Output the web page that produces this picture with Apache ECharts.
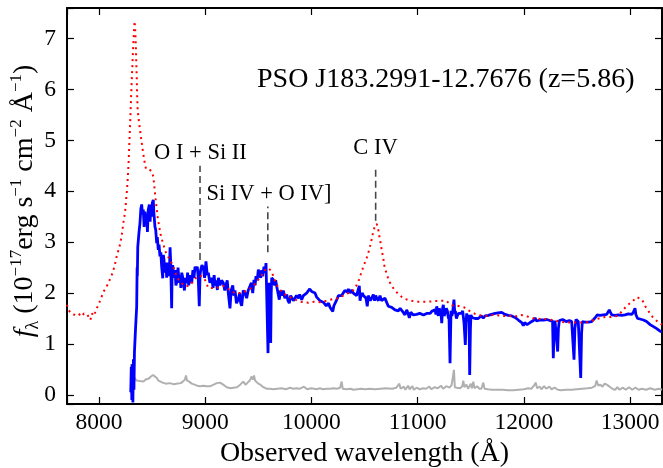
<!DOCTYPE html>
<html>
<head>
<meta charset="utf-8">
<script src="https://cdn.jsdelivr.net/npm/echarts@6/dist/echarts.min.js"></script>
<style>
html,body{margin:0;padding:0;background:#fff;}
#chart{width:663px;height:468px;}
</style>
</head>
<body>
<div id="chart"></div>
<script>
// ---------------- DATA ----------------
const titleText = 'PSO J183.2991-12.7676 (z=5.86)';
const xAxisTitle = 'Observed wavelength (Å)';

// Observed spectrum (blue): [wavelength Å, flux 1e-17]
const spectrum = [
[8300,0.05],[8305,0.55],[8310,-0.1],[8315,0.6],[8320,-0.15],[8325,0.7],[8330,0.1],[8335,0.85],[8340,0.88],[8345,1.3],
[8350,1.5],[8356,1.74],[8360,2.5],[8362,2.33],[8366,2.9],[8371,2.92],[8378,3.2],[8387,3.38],[8395,3.65],[8403,3.74],
[8410,3.55],[8418,3.64],[8426,3.3],[8434,3.6],[8444,3.38],[8450,3.55],[8457,3.2],[8465,3.64],[8475,3.74],[8482,3.4],
[8488,3.64],[8495,3.5],[8503,3.77],[8512,3.83],[8517,3.6],[8522,3.57],[8528,3.3],[8535,3.24],[8544,2.98],[8550,3.1],
[8559,2.85],[8566,2.95],[8575,2.72],[8583,2.8],[8591,2.52],[8601,2.29],[8607,2.75],[8613,2.65],[8620,2.4],[8632,2.6],
[8638,2.3],[8644,2.55],[8650,2.35],[8657,2.6],[8663,2.33],[8670,2.9],[8676,2.6],[8685,1.7],[8690,2.5],[8695,2.55],
[8705,2.3],[8717,2.45],[8725,2.15],[8738,2.26],[8745,2.5],[8755,2.2],[8764,2.35],[8772,2.1],[8780,2.4],[8795,2.25],
[8805,2.05],[8815,2.3],[8827,2.2],[8835,2.4],[8845,2.15],[8851,2.13],[8860,2.35],[8874,2.2],[8885,2.45],[8895,2.3],
[8905,2.52],[8915,2.45],[8926,2.52],[8935,2.3],[8945,1.74],[8952,2.35],[8958,2.45],[8970,2.55],[8983,2.5],[8995,2.3],
[9008,2.62],[9020,2.35],[9030,2.4],[9045,2.2],[9062,2.3],[9075,2.1],[9085,2.35],[9093,2.15],[9105,2.25],[9115,2.06],
[9125,2.3],[9140,2.15],[9155,2.25],[9171,2.2],[9185,2.05],[9196,2.15],[9208,2.25],[9218,2.0],[9234,1.7],[9245,2.05],
[9260,2.15],[9270,1.95],[9281,2.05],[9295,1.8],[9312,1.87],[9325,2.0],[9335,1.8],[9344,1.75],[9359,2.05],[9375,2.0],
[9391,1.9],[9405,2.05],[9422,2.06],[9435,2.2],[9448,2.0],[9460,2.26],[9470,2.15],[9479,2.33],[9490,2.25],[9501,2.46],
[9512,2.35],[9523,2.3],[9532,2.45],[9542,2.33],[9554,2.52],[9565,2.4],[9573,2.59],[9585,2.59],[9592,0.82],[9597,1.8],
[9604,2.2],[9610,1.3],[9617,1.02],[9622,2.0],[9627,2.3],[9642,2.26],[9655,2.15],[9664,2.25],[9674,2.13],[9685,2.1],
[9698,1.87],[9711,2.05],[9725,1.95],[9736,2.05],[9750,1.9],[9768,1.97],[9780,1.85],[9792,1.8],[9805,1.95],[9815,1.93],
[9830,1.85],[9846,1.87],[9860,1.95],[9877,1.9],[9890,1.97],[9909,1.87],[9925,1.95],[9940,1.92],[9955,2.0],[9971,2.0],
[9985,2.08],[10003,2.03],[10018,2.0],[10034,2.0],[10050,1.92],[10065,1.95],[10080,1.85],[10097,1.87],[10112,1.82],[10128,1.8],
[10140,1.75],[10150,1.74],[10162,1.8],[10175,1.72],[10190,1.75],[10201,1.64],[10212,1.75],[10222,1.75],[10235,1.85],[10244,1.87],
[10255,1.95],[10269,1.93],[10285,1.95],[10301,1.98],[10315,2.05],[10326,2.06],[10340,2.02],[10348,2.08],[10365,2.0],[10380,2.06],
[10395,2.0],[10411,2.03],[10425,1.95],[10432,1.98],[10451,2.14],[10458,1.85],[10464,1.92],[10480,2.0],[10489,1.95],[10500,1.95],
[10514,1.9],[10526,1.74],[10535,1.95],[10545,1.92],[10555,1.85],[10568,1.9],[10583,1.97],[10595,1.85],[10605,1.95],[10615,1.9],
[10630,1.85],[10646,1.95],[10660,1.85],[10677,1.87],[10692,1.9],[10709,1.87],[10724,1.74],[10740,1.76],[10756,1.72],[10770,1.75],
[10787,1.67],[10800,1.7],[10818,1.65],[10835,1.7],[10850,1.67],[10865,1.62],[10881,1.57],[10897,1.67],[10910,1.6],[10922,1.51],
[10935,1.62],[10944,1.6],[10960,1.57],[10975,1.6],[10990,1.58],[11006,1.59],[11020,1.6],[11038,1.6],[11055,1.57],[11070,1.6],
[11085,1.6],[11101,1.62],[11118,1.6],[11133,1.64],[11150,1.62],[11164,1.67],[11172,1.58],[11180,1.74],[11188,1.6],[11195,1.55],
[11203,1.7],[11211,1.65],[11220,1.6],[11227,1.41],[11235,1.7],[11242,1.77],[11250,1.55],[11258,1.6],[11270,1.7],[11280,1.65],
[11290,1.5],[11295,1.55],[11305,0.62],[11314,1.65],[11322,1.55],[11330,1.62],[11342,1.87],[11350,1.6],[11355,1.65],[11365,1.5],
[11373,1.55],[11385,1.6],[11399,1.57],[11412,1.6],[11424,1.65],[11432,1.5],[11437,1.41],[11449,0.98],[11455,1.4],[11462,1.6],
[11470,1.5],[11477,1.57],[11484,1.45],[11490,0.39],[11497,1.3],[11502,1.57],[11512,1.52],[11524,1.54],[11540,1.5],[11556,1.52],
[11570,1.5],[11587,1.52],[11600,1.55],[11618,1.51],[11635,1.55],[11650,1.53],[11665,1.56],[11680,1.55],[11695,1.58],[11712,1.57],
[11730,1.6],[11745,1.58],[11759,1.61],[11775,1.63],[11791,1.62],[11805,1.62],[11822,1.58],[11838,1.56],[11854,1.56],[11870,1.54],
[11886,1.55],[11901,1.53],[11917,1.52],[11933,1.49],[11948,1.47],[11964,1.44],[11980,1.42],[11995,1.36],[12008,1.42],[12020,1.44],
[12030,1.38],[12042,1.41],[12058,1.42],[12074,1.44],[12090,1.46],[12105,1.51],[12120,1.45],[12136,1.44],[12150,1.47],[12168,1.46],
[12185,1.47],[12199,1.47],[12215,1.48],[12230,1.48],[12245,1.46],[12262,1.46],[12270,1.45],[12277,0.72],[12285,1.3],[12293,1.46],
[12300,1.45],[12309,1.44],[12318,0.85],[12325,1.3],[12334,1.46],[12350,1.47],[12365,1.48],[12380,1.45],[12397,1.44],[12412,1.46],
[12428,1.46],[12440,1.47],[12450,1.44],[12462,1.44],[12472,0.69],[12480,1.3],[12491,1.48],[12500,1.45],[12512,1.44],[12525,1.42],
[12535,0.33],[12543,1.2],[12550,1.44],[12560,1.43],[12575,1.43],[12590,1.42],[12607,1.43],[12622,1.44],[12638,1.44],[12652,1.47],
[12669,1.51],[12680,1.52],[12691,1.57],[12705,1.55],[12717,1.56],[12730,1.55],[12748,1.57],[12765,1.6],[12780,1.58],[12790,1.62],
[12804,1.67],[12815,1.62],[12827,1.57],[12840,1.6],[12858,1.56],[12875,1.58],[12889,1.57],[12905,1.58],[12921,1.56],[12935,1.58],
[12952,1.57],[12968,1.6],[12983,1.59],[13000,1.6],[13015,1.58],[13030,1.62],[13046,1.7],[13054,1.58],[13062,1.57],[13070,1.5],
[13077,1.49],[13092,1.49],[13109,1.48],[13125,1.47],[13140,1.46],[13155,1.44],[13171,1.42],[13188,1.38],[13203,1.37],[13220,1.34],
[13234,1.33],[13250,1.3],[13265,1.28],[13282,1.25],[13297,1.24]
];

// Composite template (red dotted): [wavelength Å, flux]
const template = [
[7700,1.77],[7715,1.67],[7730,1.62],[7745,1.6],[7760,1.58],[7780,1.57],[7800,1.55],[7815,1.58],[7830,1.6],[7845,1.56],
[7860,1.6],[7875,1.63],[7890,1.58],[7905,1.55],[7920,1.47],[7935,1.6],[7950,1.55],[7965,1.62],[7980,1.7],[8004,1.81],
[8030,1.95],[8050,2.05],[8067,2.1],[8090,2.2],[8110,2.3],[8130,2.4],[8150,2.55],[8165,2.7],[8177,2.79],[8193,2.9],
[8208,3.05],[8220,3.2],[8230,3.38],[8240,3.5],[8249,3.64],[8257,3.85],[8265,4.03],[8273,4.3],[8281,4.62],[8287,4.95],
[8293,5.27],[8299,5.6],[8305,5.94],[8312,6.3],[8318,6.59],[8323,6.85],[8328,7.04],[8333,7.25],[8337,7.34],[8342,7.15],
[8346,6.98],[8351,6.6],[8356,6.26],[8360,5.9],[8365,5.6],[8375,5.4],[8387,5.21],[8400,5.0],[8412,4.82],[8428,4.6],
[8443,4.44],[8460,4.45],[8475,4.43],[8491,4.44],[8500,4.38],[8512,4.29],[8522,4.1],[8531,3.9],[8542,3.7],[8553,3.5],
[8568,3.3],[8585,3.11],[8608,2.95],[8632,2.79],[8660,2.68],[8695,2.55],[8720,2.4],[8748,2.27],[8785,2.18],[8820,2.13],
[8858,2.15],[8893,2.25],[8927,2.33],[8968,2.33],[8999,2.26],[9030,2.1],[9070,2.1],[9109,2.1],[9140,2.12],[9172,2.14],
[9203,2.1],[9240,2.05],[9281,2.0],[9320,2.0],[9344,2.0],[9375,2.03],[9406,2.06],[9447,2.12],[9485,2.23],[9523,2.31],
[9554,2.44],[9595,2.49],[9627,2.42],[9648,2.29],[9673,2.16],[9711,2.05],[9745,1.98],[9799,1.92],[9846,1.87],[9893,1.83],
[9971,1.81],[10025,1.83],[10081,1.82],[10150,1.85],[10200,1.88],[10253,1.9],[10300,1.95],[10338,1.99],[10385,2.03],[10420,2.13],
[10448,2.26],[10467,2.38],[10489,2.52],[10514,2.65],[10536,2.79],[10552,2.92],[10568,3.06],[10583,3.21],[10599,3.32],[10615,3.36],
[10630,3.24],[10640,3.11],[10653,2.97],[10662,2.84],[10677,2.69],[10684,2.56],[10702,2.42],[10724,2.28],[10749,2.16],[10787,2.05],
[10828,1.96],[10872,1.89],[10935,1.85],[10991,1.83],[11048,1.83],[11101,1.83],[11154,1.84],[11211,1.85],[11268,1.85],[11321,1.76],
[11374,1.75],[11437,1.72],[11487,1.65],[11540,1.59],[11594,1.56],[11650,1.55],[11707,1.57],[11760,1.56],[11807,1.55],[11863,1.55],
[11917,1.54],[11973,1.57],[12032,1.54],[12095,1.5],[12152,1.49],[12208,1.49],[12271,1.47],[12334,1.44],[12397,1.42],[12460,1.42],
[12522,1.42],[12585,1.42],[12644,1.46],[12704,1.5],[12764,1.53],[12820,1.53],[12880,1.55],[12924,1.64],[12968,1.75],[13018,1.83],
[13065,1.92],[13112,1.87],[13143,1.74],[13181,1.62],[13218,1.51],[13269,1.42],[13300,1.38]
];

// Noise spectrum (gray): [wavelength Å, flux]
const noise = [
[8300,0.6],[8309,0.62],[8320,0.45],[8330,0.35],[8340,0.33],[8355,0.28],[8370,0.25],[8387,0.27],[8400,0.25],[8420,0.26],
[8440,0.3],[8450,0.29],[8470,0.32],[8490,0.36],[8510,0.39],[8528,0.38],[8545,0.33],[8560,0.28],[8575,0.26],[8600,0.24],
[8630,0.22],[8669,0.23],[8700,0.21],[8730,0.22],[8748,0.25],[8770,0.23],[8790,0.26],[8810,0.3],[8820,0.38],[8830,0.28],
[8850,0.26],[8874,0.22],[8900,0.2],[8925,0.18],[8952,0.17],[8985,0.18],[9015,0.17],[9050,0.17],[9080,0.2],[9109,0.23],
[9140,0.24],[9170,0.2],[9203,0.15],[9240,0.13],[9265,0.14],[9300,0.15],[9330,0.2],[9345,0.22],[9359,0.26],[9380,0.2],
[9400,0.24],[9420,0.28],[9438,0.36],[9450,0.3],[9460,0.38],[9470,0.28],[9485,0.26],[9500,0.22],[9520,0.2],[9548,0.15],
[9580,0.12],[9610,0.12],[9642,0.11],[9680,0.12],[9720,0.13],[9760,0.11],[9799,0.14],[9830,0.12],[9860,0.13],[9893,0.12],
[9930,0.16],[9960,0.11],[10000,0.13],[10018,0.12],[10050,0.11],[10080,0.13],[10110,0.11],[10144,0.12],[10180,0.12],[10210,0.13],
[10240,0.12],[10270,0.14],[10285,0.26],[10295,0.12],[10330,0.11],[10370,0.12],[10395,0.1],[10430,0.11],[10470,0.12],[10510,0.11],
[10550,0.12],[10600,0.11],[10650,0.12],[10700,0.13],[10760,0.12],[10800,0.14],[10828,0.22],[10840,0.12],[10870,0.16],[10885,0.1],
[10910,0.18],[10925,0.11],[10950,0.17],[10965,0.1],[10990,0.14],[11020,0.11],[11050,0.13],[11080,0.12],[11110,0.16],[11130,0.11],
[11160,0.15],[11190,0.13],[11220,0.18],[11240,0.12],[11270,0.17],[11300,0.14],[11320,0.19],[11335,0.17],[11342,0.49],[11350,0.15],
[11370,0.14],[11400,0.13],[11420,0.17],[11430,0.28],[11440,0.15],[11460,0.2],[11475,0.12],[11500,0.22],[11510,0.13],[11524,0.26],
[11535,0.13],[11560,0.17],[11580,0.12],[11600,0.12],[11618,0.24],[11630,0.12],[11660,0.11],[11700,0.1],[11750,0.1],[11800,0.1],
[11850,0.09],[11900,0.09],[11950,0.1],[12000,0.11],[12040,0.13],[12070,0.12],[12095,0.18],[12111,0.24],[12125,0.13],[12150,0.16],
[12165,0.11],[12190,0.17],[12210,0.12],[12240,0.16],[12260,0.11],[12290,0.14],[12320,0.1],[12350,0.09],[12400,0.1],[12450,0.1],
[12500,0.11],[12550,0.12],[12600,0.13],[12640,0.14],[12670,0.17],[12685,0.28],[12700,0.18],[12720,0.2],[12740,0.16],[12760,0.22],
[12780,0.2],[12800,0.17],[12820,0.14],[12840,0.11],[12860,0.1],[12880,0.15],[12900,0.1],[12930,0.14],[12960,0.1],[12990,0.15],
[13020,0.1],[13050,0.14],[13080,0.1],[13110,0.12],[13150,0.1],[13190,0.13],[13230,0.1],[13270,0.12],[13300,0.1]
];

// Emission-line annotations
const lineNames  = ['O I + Si II', 'Si IV + O IV]', 'C IV'];
const lineWave   = [8952, 9590, 10605];     // dashed marker wavelength
const dashLow    = [2.65, 2.8, 3.42];       // dashed marker bottom (flux)
const dashHigh   = [4.5, 3.7, 4.46];        // dashed marker top (flux)
const labelWave  = [8956, 9601, 10604];     // label centre wavelength
const labelFlux  = [4.75, 3.95, 4.85];      // label centre flux

const xMin = 7700, xMax = 13300, yMin = -0.18, yMax = 7.6;

// ---------------- CHART ----------------
const FONT = 'Liberation Serif';
const chart = echarts.init(document.getElementById('chart'), null, {renderer: 'canvas'});

const axisCommon = {
  type: 'value',
  splitLine: {show: false},
  axisLine: {show: true, onZero: false, lineStyle: {color: '#000', width: 2}},
  axisTick: {show: true, inside: true, length: 7, lineStyle: {color: '#000', width: 1.2}}
};
const isInt = (v, step) => Math.abs(v / step - Math.round(v / step)) < 1e-6;

const dashSeries = lineNames.map((n, i) => ({
  type: 'line', name: 'dash' + i, xAxisIndex: 0, yAxisIndex: 0,
  data: [[lineWave[i], dashLow[i]], [lineWave[i], dashHigh[i]]],
  symbol: 'none', silent: true, z: 5,
  lineStyle: {color: 'rgba(0,0,0,0.72)', width: 1.6, type: [7, 4]}
}));

const option = {
  animation: false,
  backgroundColor: '#fff',
  title: {
    text: titleText, left: 257, top: 66, padding: 0,
    textStyle: {fontFamily: FONT, fontSize: 28, fontWeight: 'normal', color: '#000'}
  },
  grid: {left: 67, right: 1, top: 8, bottom: 64, containLabel: false, outerBoundsMode: 'none'},
  xAxis: [
    Object.assign({}, axisCommon, {
      position: 'bottom', min: xMin, max: xMax, splitNumber: 6,
      axisLabel: {fontFamily: FONT, fontSize: 23.5, color: '#000', margin: 7,
        formatter: v => isInt(v, 1000) ? String(v) : ''},
      name: xAxisTitle, nameLocation: 'middle', nameGap: 32,
      nameTextStyle: {fontFamily: FONT, fontSize: 28, color: '#000'}
    }),
    Object.assign({}, axisCommon, {
      position: 'top', min: xMin, max: xMax, splitNumber: 6,
      axisLabel: {show: false}
    })
  ],
  yAxis: [
    Object.assign({}, axisCommon, {
      position: 'left', min: yMin, max: yMax, splitNumber: 8,
      axisLabel: {fontFamily: FONT, fontSize: 23.5, color: '#000', margin: 11,
        formatter: v => isInt(v, 1) ? String(Math.round(v)) : ''}
    }),
    Object.assign({}, axisCommon, {
      position: 'right', min: yMin, max: yMax, splitNumber: 8,
      axisLabel: {show: false}
    })
  ],
  graphic: [{
    type: 'text', rotation: Math.PI / 2,
    x: 25, y: 201,
    style: {
      text: '{i|f}{sub|λ} (10{sup|−17}erg s{sup|−1} cm{sup|−2} Å{sup|−1})',
      fontFamily: FONT, fontSize: 28, fill: '#000', align: 'center', verticalAlign: 'middle',
      rich: {
        i: {fontFamily: FONT, fontStyle: 'italic', fontSize: 28, lineHeight: 34, verticalAlign: 'middle'},
        sub: {fontFamily: FONT, fontSize: 18, lineHeight: 18, verticalAlign: 'bottom'},
        sup: {fontFamily: FONT, fontSize: 17, lineHeight: 17, verticalAlign: 'top'}
      }
    }
  }],
  series: [
    {type: 'line', name: 'noise', data: noise, symbol: 'none', z: 1,
      lineStyle: {color: '#b0b0b0', width: 2}},
    {type: 'line', name: 'spectrum', data: spectrum, symbol: 'none', z: 2,
      lineStyle: {color: '#0000ff', width: 2.8}},
    {type: 'line', name: 'template', data: template, symbol: 'none', z: 3,
      lineStyle: {color: '#ff0000', width: 2, type: [2, 4]}},
    ...dashSeries,
    {type: 'scatter', name: 'labels', z: 6, silent: true,
      data: lineNames.map((n, i) => ({value: [labelWave[i], labelFlux[i]], name: n})),
      symbolSize: 1, itemStyle: {color: 'rgba(0,0,0,0)'},
      label: {show: true, position: 'inside', formatter: p => p.name,
        fontFamily: FONT, fontSize: 22.5, color: '#000', textBorderWidth: 0, opacity: 1}}
  ]
};
chart.setOption(option);
</script>
</body>
</html>
